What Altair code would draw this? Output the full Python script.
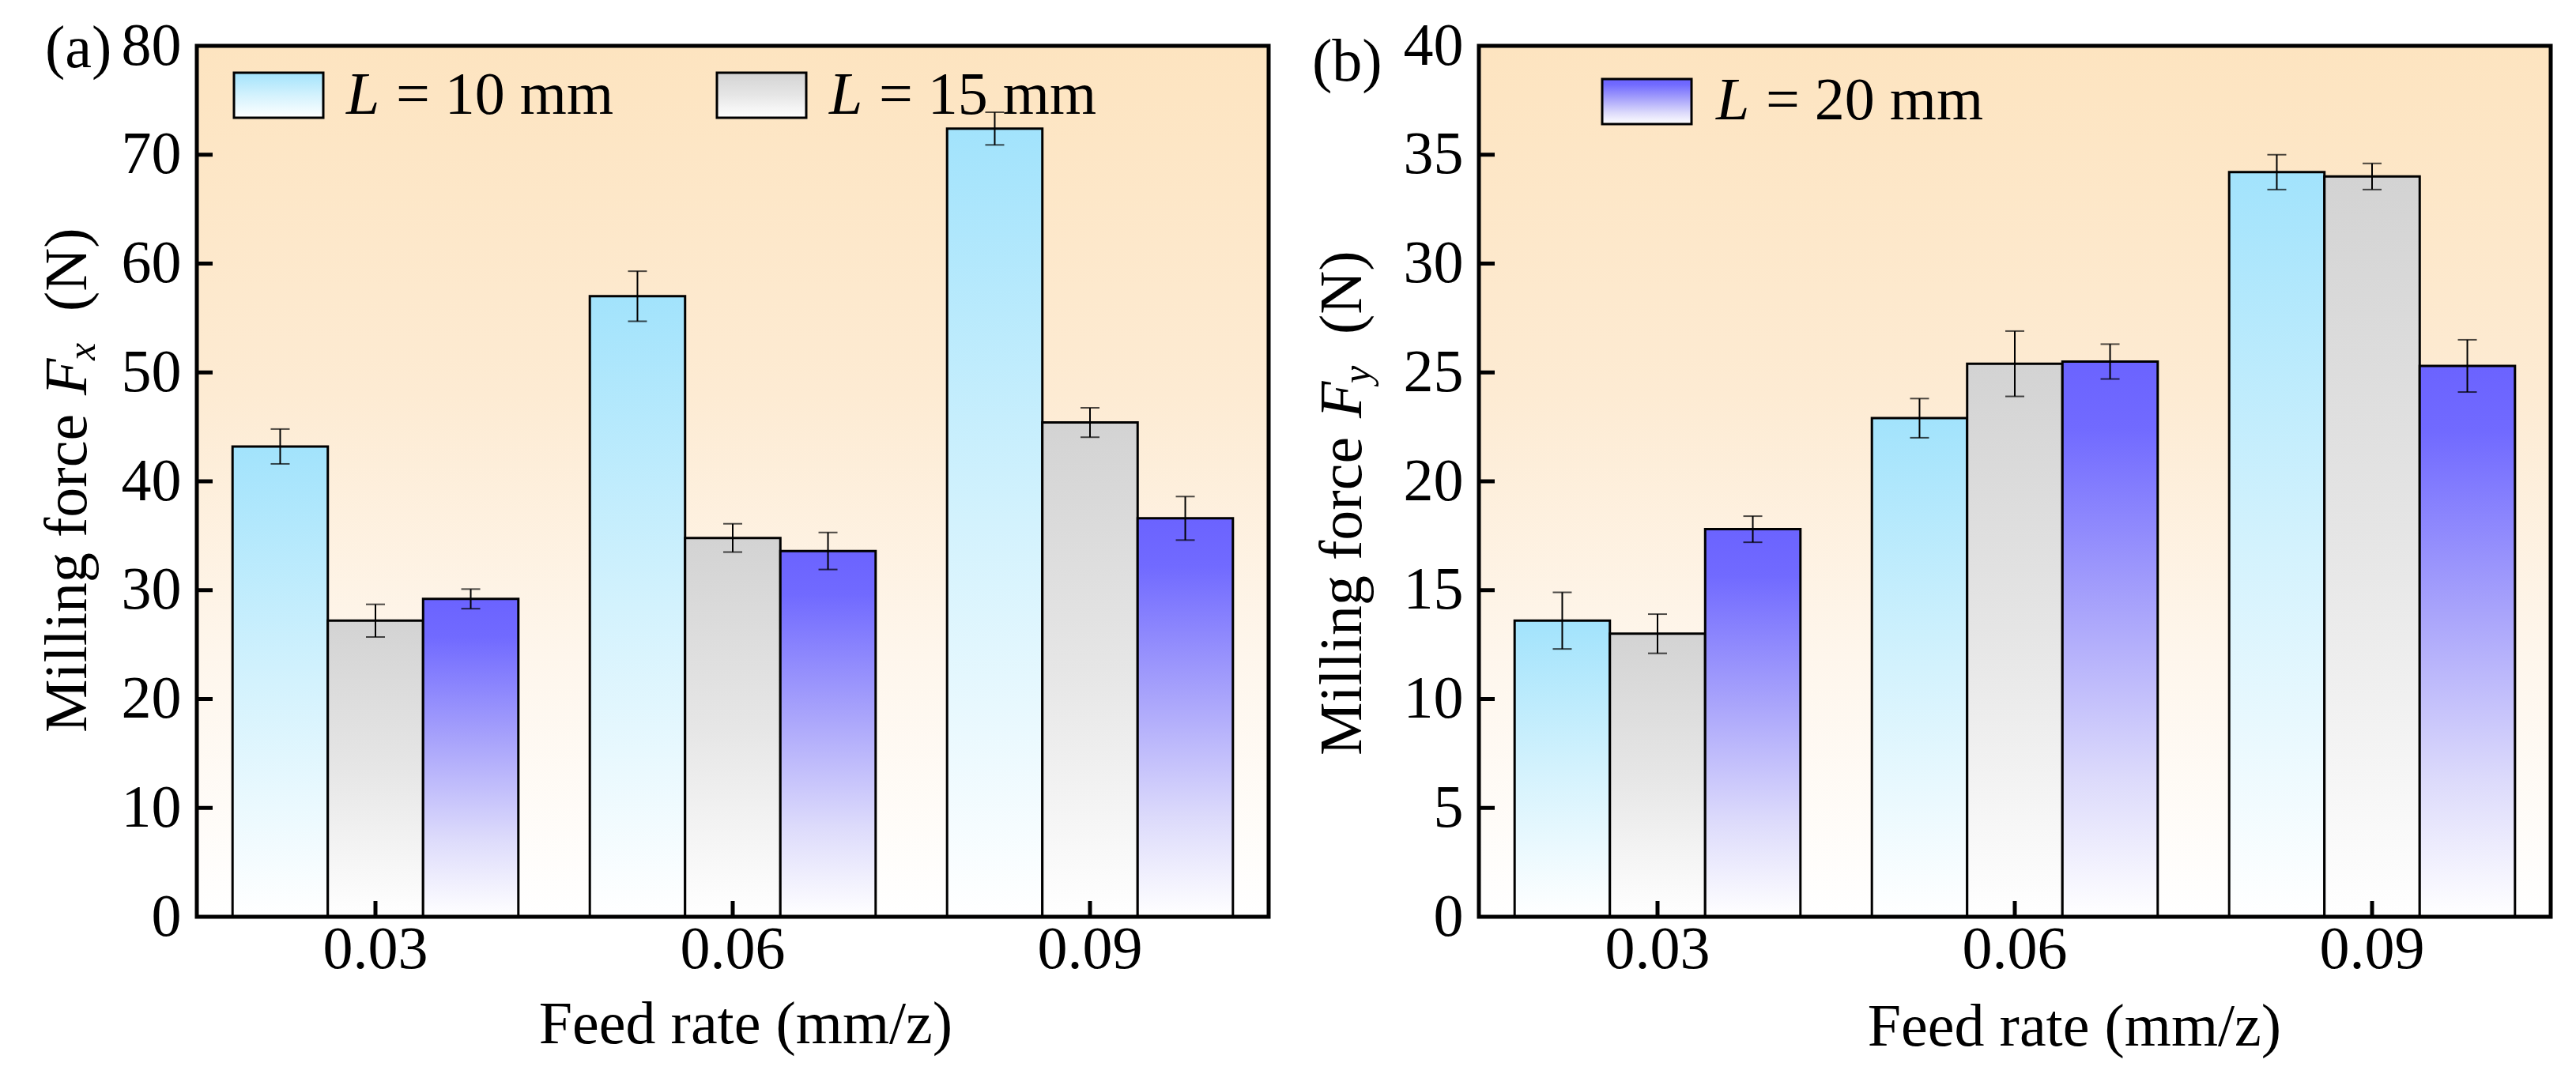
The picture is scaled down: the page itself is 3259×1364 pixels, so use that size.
import altair as alt
import pandas as pd

# ---------------- data ----------------
feed = ["0.03", "0.06", "0.09"]
lengths = ["10", "15", "20"]

fx_10 = [43.2, 57.0, 72.4]
fx_15 = [27.2, 34.8, 45.4]
fx_20 = [29.2, 33.6, 36.6]
fx_10_err = [1.6, 2.3, 1.5]
fx_15_err = [1.5, 1.3, 1.35]
fx_20_err = [0.9, 1.7, 2.0]

fy_10 = [13.6, 22.9, 34.2]
fy_15 = [13.0, 25.4, 34.0]
fy_20 = [17.8, 25.5, 25.3]
fy_10_err = [1.3, 0.9, 0.8]
fy_15_err = [0.9, 1.5, 0.6]
fy_20_err = [0.6, 0.8, 1.2]

fx_ticks = [0, 10, 20, 30, 40, 50, 60, 70, 80]
fy_ticks = [0, 5, 10, 15, 20, 25, 30, 35, 40]

legend_a = ["10", "15"]
legend_b = ["20"]

# ---------------- style ----------------
FONT = "Liberation Serif"
FS = 76
W, H = 1356, 1102


def grad(stops):
    return {"gradient": "linear", "x1": 0, "y1": 0, "x2": 0, "y2": 1,
            "stops": [{"offset": o, "color": c} for o, c in stops]}


FILLS = {
    "10": grad([(0, "#a2e3fc"), (0.5, "#d3f2fd"), (1, "#ffffff")]),
    "15": grad([(0, "#d3d3d3"), (0.5, "#e6e6e6"), (1, "#ffffff")]),
    "20": grad([(0, "#6b63ff"), (0.12, "#716aff"), (0.45, "#a9a4fb"),
                (0.75, "#dcdafb"), (1, "#ffffff")]),
}
BG = grad([(0, "#fde4c0"), (0.4, "#fdebd3"), (0.7, "#fef6ec"), (1, "#ffffff")])

one = pd.DataFrame({"a": [0]})


def make_df(vals, errs):
    rows = []
    for L, v, e in zip(lengths, vals, errs):
        for f, vi, ei in zip(feed, v, e):
            rows.append({"feed": f, "L": L, "v": vi, "lo": vi - ei, "hi": vi + ei})
    return pd.DataFrame(rows)


def panel(vals, errs, ticks, ymax, legend_keys, legend_pos, tag, tag_pos,
          sub, title_pos, xtitle_x, xtitle_y):
    df = make_df(vals, errs)
    xscale = alt.Scale(domain=feed, paddingInner=0.2, paddingOuter=0.1)
    xaxis = alt.Axis(title="Feed rate (mm/z)", labelAngle=0, ticks=False,
                     domain=False, grid=False, labelPadding=4,
                     titleX=xtitle_x, titleY=xtitle_y, titleAlign="center",
                     titleBaseline="alphabetic")
    yscale = alt.Scale(domain=[0, ymax], nice=False, zero=True)
    yaxis = alt.Axis(title=None, values=ticks, ticks=False, domain=False,
                     grid=False, labelPadding=20, format="d")

    def X(**kw):
        return alt.X("feed:N", sort=feed, scale=xscale, axis=xaxis, **kw)

    XO = alt.XOffset("L:N", sort=lengths,
                     scale=alt.Scale(domain=lengths, paddingInner=0, paddingOuter=0))

    def Y(field):
        return alt.Y(field, scale=yscale, axis=yaxis)

    layers = []
    # plot background gradient
    layers.append(alt.Chart(one).mark_rect(fill=BG).encode(
        x=alt.value(0), x2=alt.value(W), y=alt.value(0), y2=alt.value(H)))
    # bars
    for L in lengths:
        layers.append(alt.Chart(df).transform_filter(alt.datum.L == L).mark_bar(
            fill=FILLS[L], stroke="black", strokeWidth=3).encode(
            x=X(), xOffset=XO, y=Y("v:Q")))
    # error bars
    layers.append(alt.Chart(df).mark_rule(color="black", strokeWidth=2).encode(
        x=X(), xOffset=XO, y=Y("lo:Q"), y2="hi:Q"))
    for fld in ["lo:Q", "hi:Q"]:
        layers.append(alt.Chart(df).mark_tick(color="black", thickness=2, size=24).encode(
            x=X(), xOffset=XO, y=Y(fld)))
    # inward ticks
    layers.append(alt.Chart(pd.DataFrame({"feed": feed})).mark_rule(
        color="black", strokeWidth=5).encode(
        x=X(bandPosition=0.5), y=alt.value(H - 20), y2=alt.value(H)))
    layers.append(alt.Chart(pd.DataFrame({"t": ticks[1:-1]})).mark_rule(
        color="black", strokeWidth=5).encode(
        y=Y("t:Q"), x=alt.value(0), x2=alt.value(20)))
    # frame
    layers.append(alt.Chart(one).mark_rect(fill="transparent", stroke="black",
                                           strokeWidth=5).encode(
        x=alt.value(0), x2=alt.value(W), y=alt.value(0), y2=alt.value(H)))
    # legend
    for key, (sx, sy, tx, base) in zip(legend_keys, legend_pos):
        layers.append(alt.Chart(one).mark_rect(fill=FILLS[key], stroke="black",
                                               strokeWidth=3).encode(
            x=alt.value(sx), x2=alt.value(sx + 113), y=alt.value(sy),
            y2=alt.value(sy + 57)))
        layers.append(alt.Chart(one).mark_text(
            text="L", font=FONT, fontSize=FS, fontStyle="italic", align="left",
            baseline="alphabetic", color="black").encode(
            x=alt.value(tx), y=alt.value(base)))
        layers.append(alt.Chart(one).mark_text(
            text=f"= {key} mm", font=FONT, fontSize=FS, align="left",
            baseline="alphabetic", color="black").encode(
            x=alt.value(tx + 63), y=alt.value(base)))
    # panel tag
    layers.append(alt.Chart(one).mark_text(
        text=tag, font=FONT, fontSize=FS, align="left", baseline="alphabetic",
        color="black").encode(x=alt.value(tag_pos[0]), y=alt.value(tag_pos[1])))
    # y title pieces (rotated)
    bx, start = title_pos
    pieces = [
        ("Milling force", "normal", FS, bx, start),
        ("F", "italic", FS, bx, start - 427),
        (sub, "italic", 50, bx + 11, start - 471),
        ("(N)", "normal", FS, bx, start - 533),
    ]
    for txt, style, size, px, py in pieces:
        layers.append(alt.Chart(one).mark_text(
            text=txt, font=FONT, fontSize=size, fontStyle=style, angle=270,
            align="left", baseline="alphabetic", color="black").encode(
            x=alt.value(px), y=alt.value(py)))

    return alt.layer(*layers).properties(width=W, height=H)


pa = panel([fx_10, fx_15, fx_20], [fx_10_err, fx_15_err, fx_20_err], fx_ticks, 80,
           legend_a, [(47, 34, 189, 86), (658, 34, 800, 86)],
           "(a)", (-192, 27), "x", (-140, 869), 694, 159)
pb = panel([fy_10, fy_15, fy_20], [fy_10_err, fy_15_err, fy_20_err], fy_ticks, 40,
           legend_b, [(156, 42, 300, 93)],
           "(b)", (-211, 44), "y", (-149, 898), 753, 162)

chart = alt.hconcat(pa, pb, spacing=52).properties(
    padding={"left": 40, "top": 12, "right": 10, "bottom": 10},
    background="white",
).configure_view(stroke=None).configure_axis(
    labelFont=FONT, titleFont=FONT, labelFontSize=FS, titleFontSize=FS,
    labelColor="black", titleColor="black", titleFontWeight="normal",
)

chart.save("out.html", embed_options={"renderer": "svg", "actions": False})
